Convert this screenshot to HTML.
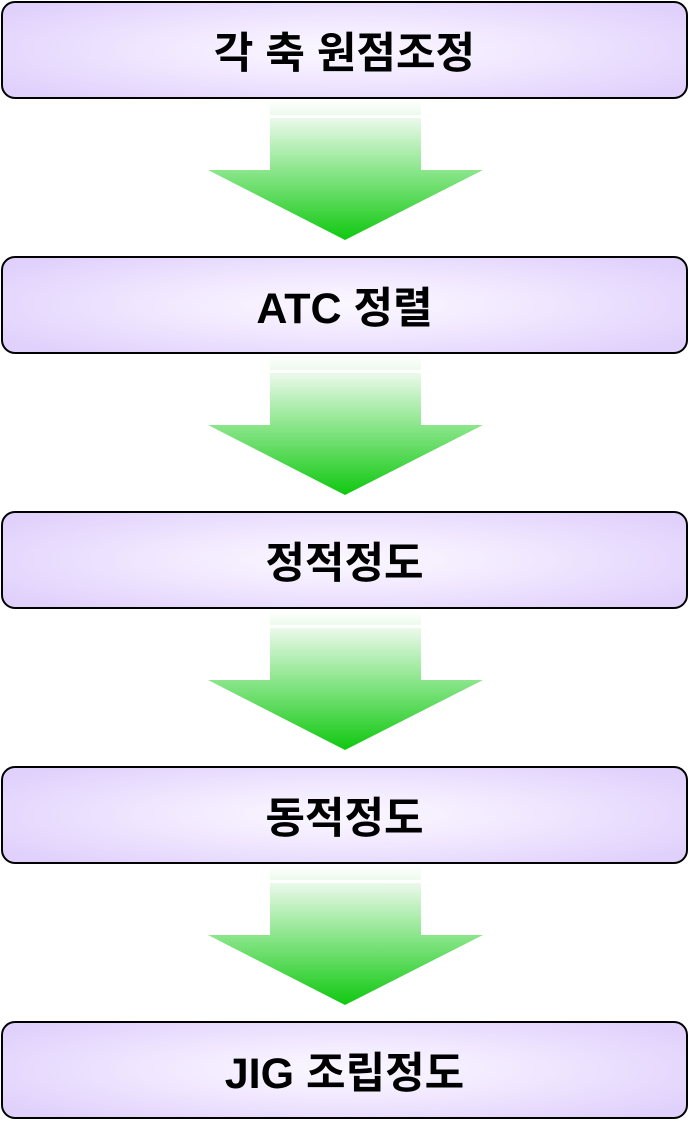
<!DOCTYPE html>
<html><head><meta charset="utf-8"><style>
body{margin:0;width:690px;height:1125px;background:#fff;position:relative;overflow:hidden;font-family:"Liberation Sans","Noto Sans CJK KR","NanumGothic",sans-serif}
.box{position:absolute;left:1px;width:683px;height:94px;border:2.5px solid #000;border-radius:14px;
background:radial-gradient(ellipse 60% 70% at 50% 50%,#fbf8ff 0%,#f1e8ff 45%,#e0d0fc 100%);
display:flex;align-items:center;justify-content:center;font-weight:bold;font-size:43px;color:#000}
svg{position:absolute;left:0}
</style></head><body>
<svg width="690" height="1125">
<defs><linearGradient id="g" x1="0" y1="0" x2="0" y2="1">
<stop offset="0" stop-color="#ffffff"/><stop offset="0.15" stop-color="#e6f8e6"/><stop offset="0.5" stop-color="#8ce68c"/><stop offset="1" stop-color="#10c810"/></linearGradient></defs>
<g id="a"><polygon points="270,100 421,100 421,170 483,170 345,240 208,170 270,170" fill="url(#g)"/><rect x="270" y="115" width="151" height="3" fill="#fff"/></g>
<use href="#a" y="255"/><use href="#a" y="510"/><use href="#a" y="765"/>
</svg>
<div class="box" style="top:1px">각 축 원점조정</div>
<div class="box" style="top:256px">ATC 정렬</div>
<div class="box" style="top:511px">정적정도</div>
<div class="box" style="top:766px">동적정도</div>
<div class="box" style="top:1021px">JIG 조립정도</div>
</body></html>
